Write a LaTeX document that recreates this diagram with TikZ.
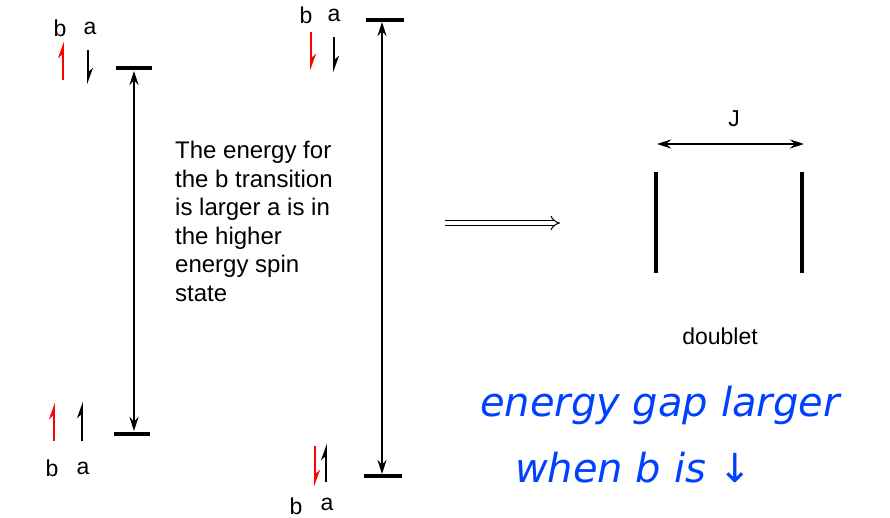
\documentclass[tikz,border=0pt]{standalone}
\usepackage{fontspec}
\setmainfont{Liberation Sans}
\newfontfamily\hand{DejaVu Sans}
\usetikzlibrary{arrows.meta}
\begin{document}
\begin{tikzpicture}[x=1pt,y=-1pt,
  lvl/.style={line width=4pt},
  spin/.style={line width=1.6pt,-{Stealth[harpoon,length=14pt,width=10pt]}},
  redspin/.style={spin,red},
  lab/.style={font=\fontsize{23}{23}\selectfont},
  gap/.style={line width=1.2pt,{Stealth[length=14pt,width=9pt]}-{Stealth[length=14pt,width=9pt]}}]
\path[use as bounding box] (0,0) rectangle (890,518);
% left
\node[lab] (lb) at (60,28) {b}; \node[lab] (la) at (90,28) {a};
\draw[redspin] (63,80) -- (63,42);
\draw[spin] (88,50) -- (88,84);
\draw[lvl] (116,68) -- (152,68);
\draw[lvl] (114,434) -- (150,434);
\coordinate (lt) at (134,71); \coordinate (lbt) at (134,431);
\draw[gap] (lt) -- (lbt);
\draw[redspin] (54,441) -- (54,403);
\draw[spin] (82,441) -- (82,402);
\node[lab] (lb2) at (52,468) {b}; \node[lab] (la2) at (83,468) {a};
% middle
\node[lab] (mb) at (306,15) {b}; \node[lab] (ma) at (334,15) {a};
\draw[redspin] (311,32) -- (311,70);
\draw[spin] (334,37) -- (334,72);
\draw[lvl] (366,20) -- (404,20);
\draw[lvl] (364,476) -- (402,476);
\coordinate (mt) at (382,22); \coordinate (mbt) at (382,474);
\draw[gap] (mt) -- (mbt);
\draw[redspin] (315,446) -- (315,486);
\draw[spin] (326,482) -- (326,444);
\node[lab,anchor=north,inner sep=1pt] (mb2) at (296,497) {b}; \node[lab,anchor=north,inner sep=1pt] (ma2) at (327,497) {a};
% text
\node[anchor=north west,align=left,inner sep=0pt,font=\fontsize{24}{28.5}\selectfont] (txt) at (175,141)
{The energy for\\the b transition\\is larger a is in\\the higher\\energy spin\\state};
% implies
\coordinate (i1) at (445,223); \coordinate (i2) at (560,223);
\draw[double,double distance=4pt,line width=1pt,-{Implies}] (i1) -- (i2);
% doublet
\coordinate (j1) at (657,144); \coordinate (j2) at (804,144);
\draw[gap] (j1) -- (j2);
\node[lab] (J) at (734,119) {J};
\draw[lvl] (656,172) -- (656,273);
\draw[lvl] (802,172) -- (802,273);
\node[lab] (dbl) at (720,336) {doublet};
% handwriting
\node[font=\hand\itshape\fontsize{40}{40}\selectfont,color=blue!75!cyan,anchor=west,inner sep=0pt] (h1) at (480,405) {energy gap larger};
\node[font=\hand\itshape\fontsize{40}{40}\selectfont,color=blue!75!cyan,anchor=west,inner sep=0pt] (h2) at (515,468) {when b is ↓};
\end{tikzpicture}
\end{document}
